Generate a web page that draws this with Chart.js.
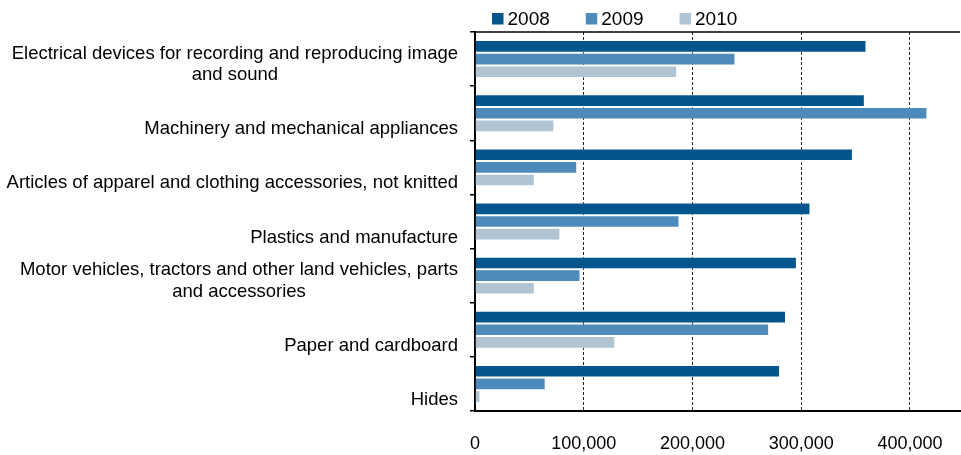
<!DOCTYPE html>
<html lang="en">
<head>
  <meta charset="UTF-8">
  <title>Exports by product group, 2008-2010</title>
  <script src="https://cdn.jsdelivr.net/npm/chart.js"></script>
  <style>
    html, body { margin: 0; padding: 0; background: #ffffff; overflow: hidden; }
    canvas { display: block; }
  </style>
</head>
<body>
  <canvas id="exportsChart" width="961" height="455"></canvas>

  <script>
    // category labels (multi-line ones split as in the original)
    const categories = [
      ['Electrical devices for recording and reproducing image', 'and sound'],
      ['Machinery and mechanical appliances'],
      ['Articles of apparel and clothing accessories, not knitted'],
      ['Plastics and manufacture'],
      ['Motor vehicles, tractors and other land vehicles, parts', 'and accessories'],
      ['Paper and cardboard'],
      ['Hides']
    ];
    const years = ['2008', '2009', '2010'];
    const values2008 = [360000, 358500, 347500, 308500, 296000, 286000, 280500];
    const values2009 = [239500, 416000, 94000, 188000, 97000, 270500, 65000];
    const values2010 = [186000, 73000, 55000, 78500, 55000, 129000, 5000];
    const xTicks = [0, 100000, 200000, 300000, 400000];

    const colors = ['#03558b', '#4f8bba', '#b0c4d4'];
    const FONT = '"Liberation Sans", Arial, sans-serif';

    // draws the category labels: last line sits a bit below the category centre,
    // extra lines are centred on the widest line (like the original)
    const categoryLabels = {
      id: 'categoryLabels',
      afterDraw(chart) {
        const ctx = chart.ctx;
        const yScale = chart.scales.y;
        const right = chart.chartArea.left - 17;
        ctx.save();
        ctx.font = '18.5px ' + FONT;
        ctx.fillStyle = '#000000';
        ctx.textAlign = 'center';
        ctx.textBaseline = 'middle';
        chart.data.labels.forEach((lines, i) => {
          const y = yScale.getPixelForValue(i) + 16;
          const w = Math.max(...lines.map(l => ctx.measureText(l).width));
          const cx = right - w / 2;
          lines.forEach((line, j) => {
            ctx.fillText(line, cx, y - (lines.length - 1 - j) * 21.5);
          });
        });
        ctx.restore();
      }
    };

    // legend across the top and the frame line over the plot
    const topDecor = {
      id: 'topDecor',
      afterDraw(chart) {
        const ctx = chart.ctx;
        const area = chart.chartArea;
        ctx.save();
        ctx.strokeStyle = '#000000';
        ctx.lineWidth = 1.5;
        ctx.beginPath();
        ctx.moveTo(area.left, area.top);
        ctx.lineTo(area.right, area.top);
        ctx.stroke();

        ctx.font = '19px ' + FONT;
        ctx.textBaseline = 'middle';
        ctx.textAlign = 'left';
        let x = 492;
        chart.data.datasets.forEach(ds => {
          ctx.fillStyle = ds.backgroundColor;
          ctx.fillRect(x, 13, 11.5, 11.5);
          ctx.fillStyle = '#000000';
          ctx.fillText(ds.label, x + 15.5, 19.5);
          x += 15.5 + ctx.measureText(ds.label).width + 36;
        });
        ctx.restore();
      }
    };

    const ctx = document.getElementById('exportsChart').getContext('2d');
    new Chart(ctx, {
      type: 'bar',
      data: {
        labels: categories,
        datasets: [
          { label: years[0], data: values2008, backgroundColor: colors[0], borderColor: 'rgba(255,255,255,0.4)', borderWidth: 1 },
          { label: years[1], data: values2009, backgroundColor: colors[1], borderColor: 'rgba(255,255,255,0.4)', borderWidth: 1 },
          { label: years[2], data: values2010, backgroundColor: colors[2], borderColor: 'rgba(255,255,255,0.4)', borderWidth: 1 }
        ]
      },
      options: {
        indexAxis: 'y',
        responsive: false,
        animation: false,
        layout: { padding: { top: 32, right: 1, left: 0, bottom: 0 } },
        datasets: {
          bar: { categoryPercentage: 0.7, barPercentage: 1.0 }
        },
        scales: {
          x: {
            min: 0,
            max: 446000,
            afterBuildTicks: scale => {
              scale.ticks = xTicks.map(v => ({ value: v }));
            },
            afterFit: scale => {
              scale.height = 44;
              scale.paddingLeft = 0;
              scale.paddingRight = 0;
            },
            ticks: {
              padding: 22,
              color: '#000000',
              font: { family: FONT, size: 18 },
              maxRotation: 0,
              callback: v => v.toLocaleString('en-US')
            },
            grid: {
              drawTicks: false,
              color: c => c.tick && c.tick.value === 0 ? 'rgba(0,0,0,0)' : '#222222',
              lineWidth: 1
            },
            border: { display: true, color: '#000000', width: 2, dash: [3, 2] }
          },
          y: {
            afterFit: scale => { scale.width = 475; },
            ticks: { display: false },
            grid: {
              offset: true,
              drawOnChartArea: false,
              drawTicks: true,
              tickLength: 5,
              color: '#000000',
              lineWidth: 1.5
            },
            border: { display: true, color: '#000000', width: 2 }
          }
        },
        plugins: {
          legend: { display: false },
          tooltip: { enabled: false }
        }
      },
      plugins: [categoryLabels, topDecor]
    });
  </script>
</body>
</html>
